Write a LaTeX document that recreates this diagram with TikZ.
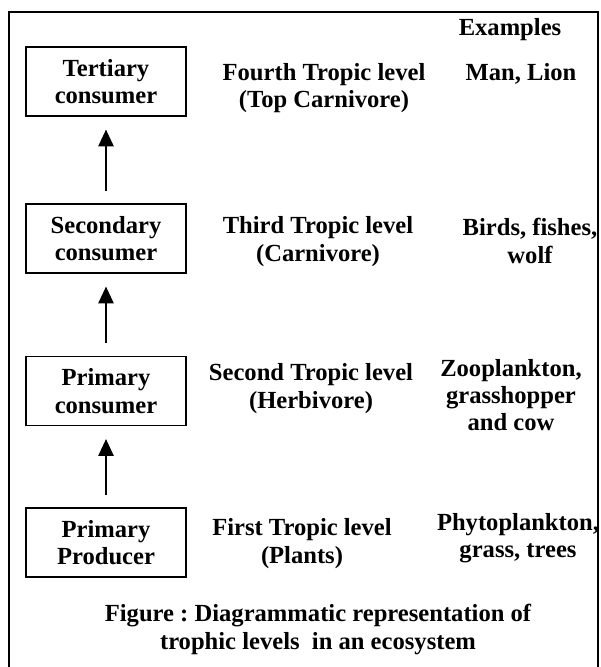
\documentclass[tikz,border=0pt]{standalone}
\usepackage{fontspec}
\setmainfont{Liberation Serif}
\usetikzlibrary{arrows.meta,positioning}
\frenchspacing

\begin{document}
\begin{tikzpicture}[x=0.02cm, y=-0.02cm,
			every node/.style={font=\fontsize{14}{15.6}\selectfont\bfseries, align=center, inner sep=0pt},
			level/.style={rectangle, draw, line width=1.1pt, minimum width=3.2cm, minimum height=1.38cm},
			link/.style={-{Triangle[length=0.34cm, width=0.3cm]}, line width=1.6pt, shorten <=0.25cm, shorten >=0.25cm}
		]
		\useasboundingbox (0,0) rectangle (600,667);

		% Frame
		\draw[line width=1.1pt] (9,667) -- (9,12) -- (598,12) -- (598,667);

		% Trophic levels
		\node[level] (ter) at (106,81.5) {Tertiary\\consumer};
		\node[level] (sec) at (106,238.5) {Secondary\\consumer};
		\node[level] (pcon) at (106,391) {Primary\\consumer};
		\node[level] (prod) at (106,542.5) {Primary\\Producer};

		% Connections
		\draw[link] (prod) -- (pcon);
		\draw[link] (pcon) -- (sec);
		\draw[link] (sec) -- (ter);

		% Level names
		\node (l4) at (324,88) {Fourth Tropic level\\(Top Carnivore)};
		\node (l3) at (318,241.5) {Third Tropic level\\(Carnivore)};
		\node (l2) at (311,388.5) {Second Tropic level\\(Herbivore)};
		\node (l1) at (302,543.5) {First Tropic level\\(Plants)};

		% Examples
		\node (exhead) at (510,30) {Examples};
		\node (ex4) at (521,74) {Man, Lion};
		\node (ex3) at (530,241) {Birds, fishes,\\wolf};
		\node (ex2) at (511,395) {Zooplankton,\\grasshopper\\and cow};
		\node (ex1) at (518,538) {Phytoplankton,\\grass, trees};

		% Caption
		\node (cap) at (318,629.5) {Figure : Diagrammatic representation of\\trophic levels~ in an ecosystem};

	\end{tikzpicture}
\end{document}
